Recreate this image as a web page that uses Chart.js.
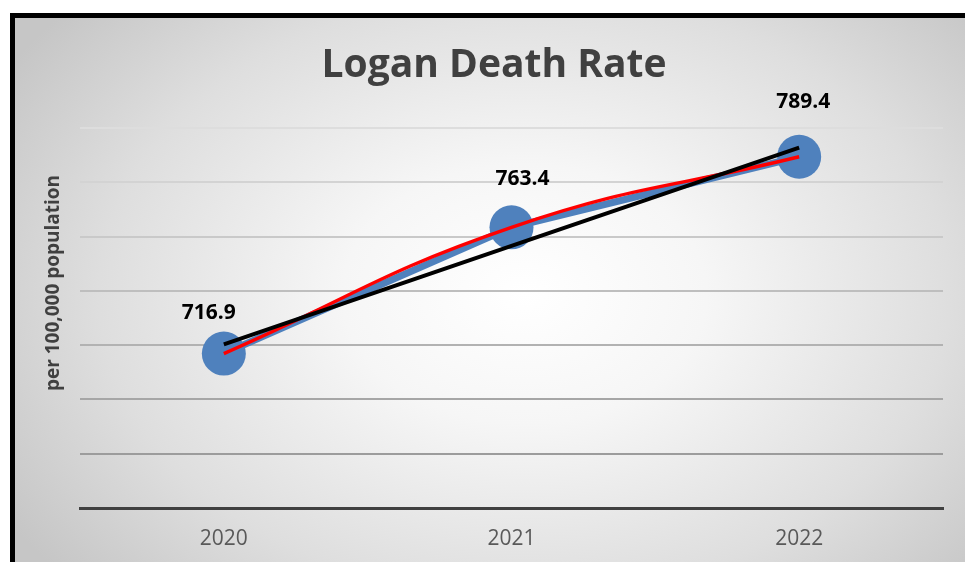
<!DOCTYPE html>
<html>
<head>
<meta charset="utf-8">
<script src="https://cdn.jsdelivr.net/npm/chart.js@4"></script>
<style>
    html, body { margin: 0; padding: 0; background: #ffffff; }
    #wrap { position: relative; width: 965px; height: 562px; overflow: hidden; }
    #frame {
        position: absolute; left: 10px; top: 13px; width: 980px; height: 600px;
        border-left: 5px solid #000; border-top: 5px solid #000;
        background: radial-gradient(ellipse 62% 72% at 52% 46%, #ffffff 0%, #f6f6f6 30%, #dedede 70%, #c6c6c6 100%);
    }
    #chart { position: absolute; left: 0; top: 0; }
</style>
</head>
<body>
<div id="wrap">
    <div id="frame"></div>
    <canvas id="chart" width="965" height="562"></canvas>
</div>
<script>
    // values
    const years = ['2020', '2021', '2022'];
    const deathRate = [716.9, 763.4, 789.4];
    const linearTrend = [720.3, 756.6, 792.8];
    const polyTrend = [716.9, 763.4, 789.4];
    const yTicks = [660, 680, 700, 720, 740, 760, 780, 800];

    const chartTitle = 'Logan Death Rate';
    const yTitle = 'per 100,000 population';

    // label nudges (px) so they sit where the original has them
    const labelOffsets = [[-15, -41], [11, -48], [4, -55]];

    const gridColors = {
        680: '#9c9c9c', 700: '#a6a6a6', 720: '#b2b2b2', 740: '#bebebe',
        760: '#c9c9c9', 780: '#d3d3d3', 800: '#dddddd'
    };

    const FONT = '"Open Sans", "Liberation Sans", sans-serif';

    const decorations = {
        id: 'decorations',
        afterDatasetsDraw(chart) {
            const ctx = chart.ctx;
            const meta = chart.getDatasetMeta(2);
            ctx.save();
            ctx.fillStyle = '#000000';
            ctx.font = 'bold 21px ' + FONT;
            ctx.textAlign = 'center';
            ctx.textBaseline = 'middle';
            meta.data.forEach((pt, i) => {
                const off = labelOffsets[i];
                ctx.fillText(deathRate[i].toFixed(1), pt.x + off[0], pt.y + off[1]);
            });

            ctx.fillStyle = '#404040';
            ctx.font = 'bold 39px ' + FONT;
            ctx.textBaseline = 'alphabetic';
            ctx.fillText(chartTitle, 494, 77);

            ctx.translate(54, 283);
            ctx.rotate(-Math.PI / 2);
            ctx.font = 'bold 19px ' + FONT;
            ctx.textBaseline = 'middle';
            ctx.fillText(yTitle, 0, 0);
            ctx.restore();
        }
    };

    const ctx = document.getElementById('chart').getContext('2d');
    new Chart(ctx, {
        type: 'line',
        data: {
            labels: years,
            datasets: [
                {
                    label: 'Linear trend',
                    data: linearTrend,
                    borderColor: '#000000',
                    borderWidth: 4,
                    pointRadius: 0,
                    tension: 0,
                    borderCapStyle: 'butt'
                },
                {
                    label: 'Poly trend',
                    data: polyTrend,
                    borderColor: '#ff0000',
                    borderWidth: 3.5,
                    pointRadius: 0,
                    tension: 0.45
                },
                {
                    label: 'Death rate',
                    data: deathRate,
                    borderColor: '#4f81bd',
                    backgroundColor: '#4f81bd',
                    borderWidth: 7,
                    pointRadius: 22,
                    pointBorderWidth: 0,
                    pointBackgroundColor: '#4f81bd',
                    tension: 0
                }
            ]
        },
        options: {
            responsive: false,
            devicePixelRatio: 1,
            animation: false,
            clip: false,
            layout: { padding: { left: 80, right: 21, top: 128, bottom: 11 } },
            plugins: {
                legend: { display: false },
                tooltip: { enabled: false },
                title: { display: false }
            },
            scales: {
                x: {
                    offset: true,
                    grid: { display: false, drawTicks: false },
                    border: { display: true, color: '#404040', width: 3 },
                    ticks: {
                        color: '#595959',
                        padding: 18,
                        font: { family: FONT, size: 21 }
                    },
                    afterFit: scale => { scale.height = 43; }
                },
                y: {
                    min: yTicks[0],
                    max: yTicks[yTicks.length - 1],
                    afterBuildTicks: scale => {
                        scale.ticks = yTicks.map(v => ({ value: v }));
                    },
                    grid: {
                        drawTicks: false,
                        lineWidth: 2,
                        color: c => gridColors[c.tick.value] || 'rgba(0,0,0,0)'
                    },
                    border: { display: false },
                    ticks: { display: false }
                }
            }
        },
        plugins: [decorations]
    });
</script>
</body>
</html>
